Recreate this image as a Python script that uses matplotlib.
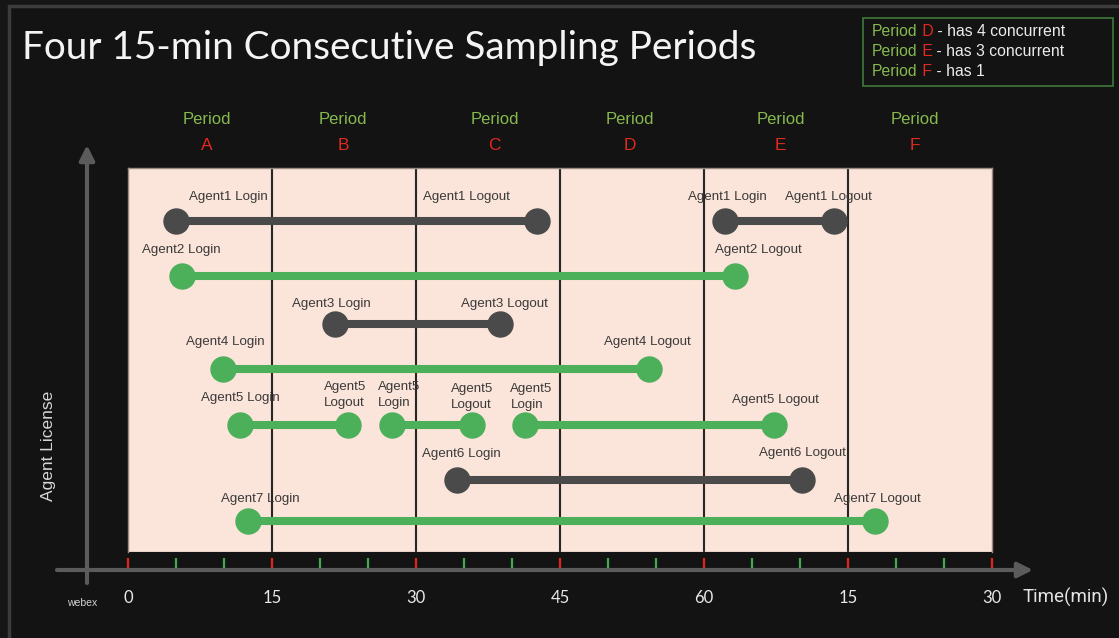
import matplotlib
matplotlib.use('Agg')
import matplotlib.pyplot as plt
from matplotlib.patches import Rectangle

W, H = 1119, 638

# login / logout times in minutes, one list of sessions per agent
agents = ['Agent1', 'Agent2', 'Agent3', 'Agent4', 'Agent5', 'Agent6', 'Agent7']
rows = [6.9, 5.76, 4.74, 3.82, 2.65, 1.5, 0.65]
sessions = [
    [(5.0, 42.6), (62.2, 73.5)],
    [(5.6, 63.2)],
    [(21.6, 38.75)],
    [(9.9, 54.3)],
    [(11.7, 22.9), (27.5, 35.8), (41.4, 67.25)],
    [(34.3, 70.2)],
    [(12.5, 77.8)],
]
counted = [False, True, False, True, True, False, True]

periods = ['A', 'B', 'C', 'D', 'E', 'F']
period_bounds = [15, 30, 45, 60, 75]
tick_major = [0, 15, 30, 45, 60, 75, 90]
tick_labels = ['0', '15', '30', '45', '60', '15', '30']
notes = [('D', ' - has 4 concurrent'), ('E', ' - has 3 concurrent'), ('F', ' - has 1')]

# label placement: offset of each login/logout text from its marker, pixels
label_offsets = [
    [((52, 24), (-71, 24)), ((2, 24), (-5, 24))],
    [((0, 26), (24, 26))],
    [((-4, 20), (4, 20))],
    [((2, 27), (-2, 27))],
    [((0, 27), (-24, 30)), ((-14, 30), (-21, 28)), ((-15, 28), (2, 25))],
    [((4, 26), (1, 27))],
    [((12, 22), (2, 22))],
]
stacked = {(4, 0, 1), (4, 1, 0), (4, 1, 1), (4, 2, 0)}
period_x = [8.2, 22.4, 38.2, 52.3, 68.0, 82.0]

GREEN = '#4caf5a'
GRAY = '#4a4a4a'
PGREEN = '#86b94e'
PRED = '#e0291f'
BG = '#131313'

fig = plt.figure(figsize=(W / 100, H / 100), dpi=100, facecolor='#161616')
fig.patches.append(Rectangle((9 / W, -0.05), 1.1, 1.05 - 6 / H, transform=fig.transFigure,
                             facecolor=BG, edgecolor='#3c3c3c', lw=2.5, zorder=-5))

ax = fig.add_axes([128 / W, (H - 552) / H, 864 / W, 384 / H])
ax.set_facecolor('#fbe4d9')
ax.set_xlim(0, 90)
ax.set_ylim(0, 8)
for s in ['top', 'left', 'right']:
    ax.spines[s].set_color('#9a8a84')
    ax.spines[s].set_linewidth(1)
ax.spines['bottom'].set_position(('outward', 13))
ax.spines['bottom'].set_visible(False)
ax.axhline(0, color='#9a8a84', lw=1)

for b in period_bounds:
    ax.axvline(b, color='#262626', lw=1.5, zorder=1)

# sessions
for i, agent in enumerate(agents):
    c = GREEN if counted[i] else GRAY
    for j, (t0, t1) in enumerate(sessions[i]):
        ax.plot([t0, t1], [rows[i], rows[i]], color=c, lw=5.8, marker='o', ms=18,
                solid_capstyle='butt', zorder=3)
        for k, (t, word) in enumerate([(t0, 'Login'), (t1, 'Logout')]):
            dx, dy = label_offsets[i][j][k]
            if (i, j, k) in stacked:
                ax.annotate(agent + '\n' + word, xy=(t, rows[i]), xytext=(dx, dy),
                            textcoords='offset pixels', ha='left', va='center',
                            fontsize=9.6, color='#3a3a3a', family='Liberation Sans',
                            linespacing=1.45, zorder=4)
            else:
                ax.annotate(agent + ' ' + word, xy=(t, rows[i]), xytext=(dx, dy),
                            textcoords='offset pixels', ha='center', va='center',
                            fontsize=9.6, color='#3a3a3a', family='Liberation Sans',
                            zorder=4)

# period headers
for x, p in zip(period_x, periods):
    ax.annotate('Period', xy=(x, 1), xycoords=('data', 'axes fraction'), xytext=(0, 49),
                textcoords='offset pixels', ha='center', va='center', fontsize=12,
                color=PGREEN, family='Liberation Sans', annotation_clip=False)
    ax.annotate(p, xy=(x, 1), xycoords=('data', 'axes fraction'), xytext=(0, 22),
                textcoords='offset pixels', ha='center', va='center', fontsize=12.5,
                color=PRED, family='Liberation Sans', annotation_clip=False)

# time axis ticks
ax.set_xticks(tick_major)
ax.set_xticklabels(tick_labels)
ax.set_xticks(range(5, 90, 5), minor=True)
ax.set_yticks([])
ax.tick_params(axis='x', which='major', direction='in', length=8.8, width=1.6,
               color='#e0261c', labelcolor='#e8e8e8', labelsize=12, pad=14.5)
ax.tick_params(axis='x', which='minor', direction='in', length=8.8, width=1.6, color='#43a84f')
for lab in ax.get_xticklabels():
    lab.set_family('Lato')

ax.set_ylabel('Agent License', fontsize=12.5, color='#d6d6d6', family='Liberation Sans')
ax.yaxis.set_label_coords(-0.083, 0.276)

ax.annotate('', xy=(1033, H - 570), xytext=(57, H - 570), xycoords='figure pixels',
            textcoords='figure pixels', annotation_clip=False,
            arrowprops=dict(arrowstyle='-|>,head_length=0.9,head_width=0.45', color='#5b5b5b',
                            lw=3, mutation_scale=10, shrinkA=0, shrinkB=0))
ax.annotate('', xy=(87, H - 145), xytext=(87, H - 583), xycoords='figure pixels',
            textcoords='figure pixels', annotation_clip=False,
            arrowprops=dict(arrowstyle='-|>,head_length=0.9,head_width=0.45', color='#5b5b5b',
                            lw=3, mutation_scale=10, shrinkA=0, shrinkB=0))

fig.text(1023 / W, 1 - 597 / H, 'Time(min)', fontsize=13.5, color='#e4e4e4',
         family='Roboto', va='center', ha='left')
fig.text(82 / W, 1 - 603 / H, 'webex', fontsize=7.5, color='#d4d4d4', family='Liberation Sans',
         ha='center', va='center')

fig.text(22 / W, 1 - 48 / H, 'Four 15-min Consecutive Sampling Periods', fontsize=27.9,
         color='#f4f4f4', family='Lato', va='center', ha='left')

# note box
fig.patches.append(Rectangle((863 / W, 1 - 86 / H), 250 / W, 68 / H, transform=fig.transFigure,
                             facecolor='none', edgecolor='#3f7a3a', lw=1.2))
for n, (letter, rest) in enumerate(notes):
    y = 1 - (32 + 19.5 * n) / H
    t = fig.text(872 / W, y, 'Period', fontsize=11.3, color=PGREEN,
                 family='Liberation Sans', va='center')
    t = ax.annotate(' ' + letter, xy=(1, 0), xycoords=t, va='bottom', fontsize=11.3,
                    color=PRED, family='Liberation Sans', annotation_clip=False)
    ax.annotate(rest, xy=(1, 0), xycoords=t, va='bottom', fontsize=11.3,
                color='#ececec', family='Liberation Sans', annotation_clip=False)

fig.savefig('out.png', dpi=100, facecolor=fig.get_facecolor())
